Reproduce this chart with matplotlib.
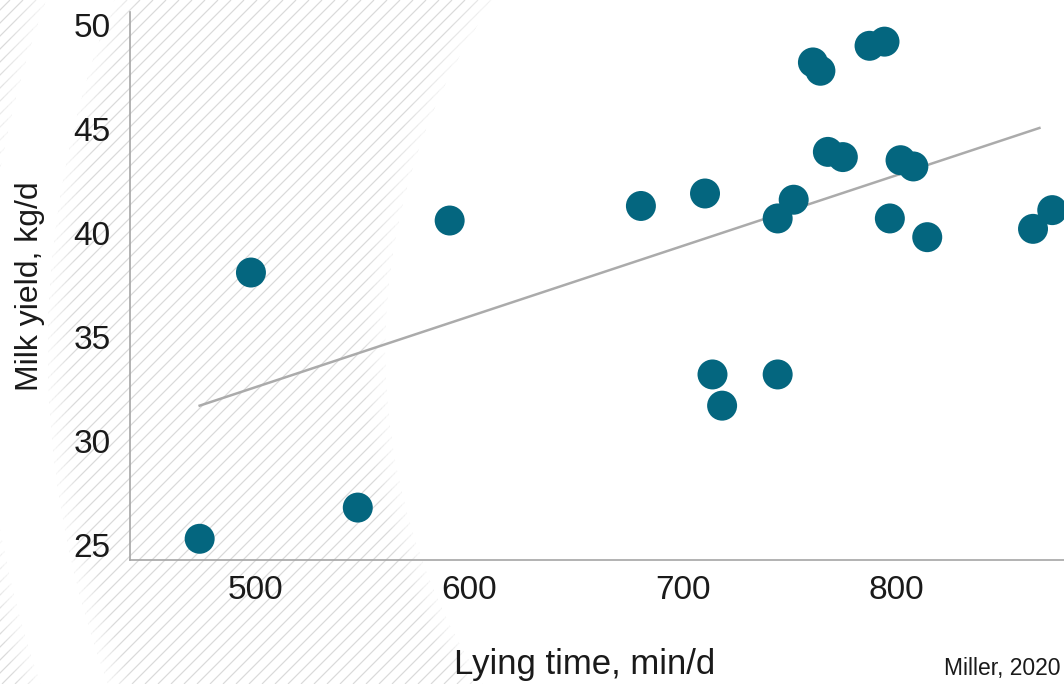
import numpy as np
import matplotlib
matplotlib.use("Agg")
from matplotlib import pyplot as plt
from matplotlib.patches import Circle, Wedge
from matplotlib.collections import LineCollection

# data
lying_time = [474, 498, 548, 591, 680.5, 710.5, 714, 718.5, 744.5, 744.5, 752, 761,
              764.5, 768, 775, 787.5, 794.5, 797, 802, 808, 814.5, 864, 873]
milk_yield = [25.3, 38.1, 26.8, 40.6, 41.3, 41.9, 33.2, 31.7, 33.2, 40.7, 41.6, 48.2,
              47.8, 43.9, 43.65, 49.0, 49.2, 40.7, 43.5, 43.2, 39.8, 40.2, 41.1]
trend_x = [474, 867]
trend_y = [31.7, 45.05]
x_ticks = [500, 600, 700, 800]
y_ticks = [25, 30, 35, 40, 45, 50]

teal = '#04667f'

plt.rcParams['font.family'] = ['Liberation Sans', 'DejaVu Sans']

fig = plt.figure(figsize=(10.64, 6.84), dpi=100)

# BACKGROUND: hatched ring with soft edges (pixel coordinates)
bg = fig.add_axes([0, 0, 1, 1], zorder=0)
bg.set_xlim(0, 1064)
bg.set_ylim(684, 0)
bg.axis('off')
step = 13
segs = [[(c, 684), (c + 684, 0)] for c in np.arange(-700, 1064, step)]
bg.add_collection(LineCollection(segs, colors='#dadada', linewidths=0.85, zorder=1))

cx, cy = 1003, 350
r_disc, r_gap_in, r_gap_out = 618, 943, 1031
fade = 24
nsteps = 8
# solid white parts
bg.add_patch(Circle((cx, cy), r_disc, facecolor='white', edgecolor='none', zorder=3))
bg.add_patch(Wedge((cx, cy), r_gap_out - fade / 2, 0, 360,
                   width=r_gap_out - r_gap_in - fade,
                   facecolor='white', edgecolor='none', zorder=3))
# fading bands
w = fade / nsteps
for i in range(nsteps):
    a = 0.85 * (1 - (i + 0.5) / nsteps)
    bg.add_patch(Wedge((cx, cy), r_disc + (i + 1) * w, 0, 360, width=w,
                       facecolor='white', edgecolor='none', alpha=a, zorder=3))
    bg.add_patch(Wedge((cx, cy), r_gap_in + fade / 2 - i * w, 0, 360, width=w,
                       facecolor='white', edgecolor='none', alpha=a, zorder=3))
    bg.add_patch(Wedge((cx, cy), r_gap_out - fade / 2 + (i + 1) * w, 0, 360, width=w,
                       facecolor='white', edgecolor='none', alpha=a, zorder=3))

# MAIN PLOT
ax = fig.add_axes([130 / 1064, 124 / 684, 934 / 1064, 548 / 684], zorder=1)
ax.patch.set_alpha(0)

ax.plot(trend_x, trend_y, color='#ababab', lw=1.8, zorder=2)
ax.scatter(lying_time, milk_yield, s=466, color=teal, edgecolors='none', zorder=3)

ax.set_xlim(441.4, 878.5)
ax.set_ylim(24.28, 50.625)
ax.set_xticks(x_ticks)
ax.set_yticks(y_ticks)
ax.tick_params(axis='both', length=0, labelsize=24, labelcolor='#1a1a1a')
ax.tick_params(axis='y', pad=14)
ax.tick_params(axis='x', pad=11)

for s in ['top', 'right']:
    ax.spines[s].set_visible(False)
for s in ['left', 'bottom']:
    ax.spines[s].set_color('#a6a6a6')
    ax.spines[s].set_linewidth(1.2)

ax.set_xlabel('Lying time, min/d', fontsize=25, color='#1a1a1a', va='center')
ax.xaxis.set_label_coords(0.487, -0.1916)
ax.set_ylabel('Milk yield, kg/d', fontsize=23, color='#1a1a1a', va='center')
ax.yaxis.set_label_coords(-0.107, 0.5)

fig.text(1060 / 1064, (684 - 668) / 684, 'Miller, 2020', ha='right', va='center',
         fontsize=16.5, color='#1a1a1a')

fig.savefig('out.png', dpi=100)
